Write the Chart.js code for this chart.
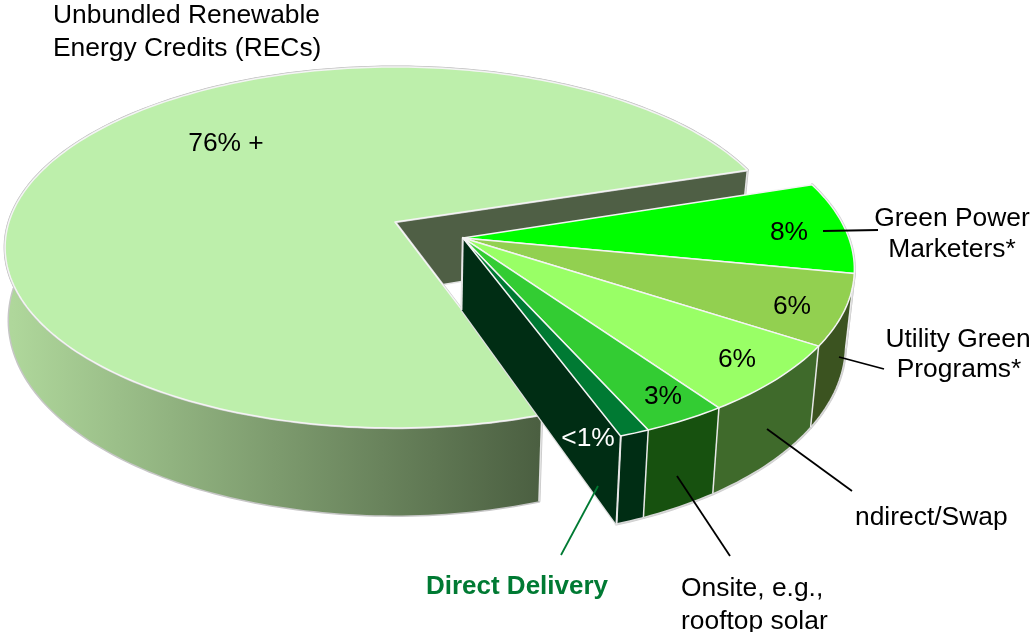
<!DOCTYPE html>
<html><head><meta charset="utf-8">
<style>html,body{margin:0;padding:0;background:#fff;overflow:hidden}canvas{display:block}</style>
<script src="https://cdn.jsdelivr.net/npm/chart.js@4"></script></head>
<body><canvas id="c" width="1033" height="632"></canvas>
<script>
const categories = ['Green Power Marketers*','Utility Green Programs*','Indirect/Swap','Onsite, e.g., rooftop solar','Direct Delivery','Unbundled Renewable Energy Credits (RECs)'];
const values = [8,6.2,6.2,3.1,1.1,75.4];
const topColors = ['#00FF00','#92D050','#99FF66','#33CC33','#007A33','#BDEFAB'];
const wallColors = ['#2f4a14','#3B5320','#3F6A2B','#17510F','#002D14','#5f7a50'];
const valueLabels = ['8%','6%','6%','3%','<1%','76% +'];
const valueLabelColors = ['#000','#000','#000','#000','#fff','#000'];
const valueLabelPos = [[789,231],[792,305],[737,358],[663,395],[588,437],[226,142]];
const textLabels = [
 {t:'Unbundled Renewable',x:53,y:14,a:'left'},{t:'Energy Credits (RECs)',x:53,y:47,a:'left'},
 {t:'Green Power',x:952,y:217,a:'center'},{t:'Marketers*',x:952,y:248,a:'center'},
 {t:'Utility Green',x:958,y:338,a:'center'},{t:'Programs*',x:959,y:368,a:'center'},
 {t:'ndirect/Swap',x:855,y:516,a:'left'},
 {t:'Onsite, e.g.,',x:681,y:587,a:'left'},{t:'rooftop solar',x:681,y:620,a:'left'},
 {t:'Direct Delivery',x:517,y:585,a:'center',b:1,c:'#007A33'}];
const leaders = [
 [[823,231],[878,230],'#000'],[[839,357],[884,369],'#000'],[[767,429],[852,491],'#000'],
 [[677,476],[730,556],'#000'],[[598,486],[561,555],'#007A33']];
const FONT='"Liberation Sans", Arial, sans-serif';
const O={x:395,y:222},B=386,A=176.9,K=0.141,SHIFT={u:0.1739,v:0.0893},RX_SMALL=0.987,TEXT_DY=1.8;
const project=(u,v)=>{const w=1-K*v;return {x:O.x+B*u/w,y:O.y+A*v/w,v};};
const drop=p=>({x:O.x+(p.x-O.x)*(p.x<O.x?0.99:0.981),y:p.y+70.5+17*p.v});
function rimPts(a0,a1,s,rx){const n=Math.max(2,Math.ceil((a1-a0)/0.02)),r=[];
 for(let i=0;i<=n;i++){const a=a0+(a1-a0)*i/n;r.push(project(s.u+rx*Math.cos(a),s.v+Math.sin(a)));}return r;}
function poly(ctx,pts){ctx.beginPath();pts.forEach((p,i)=>i?ctx.lineTo(p.x,p.y):ctx.moveTo(p.x,p.y));ctx.closePath();}
function line(ctx,pts,col,w){ctx.beginPath();pts.forEach((p,i)=>i?ctx.lineTo(p.x,p.y):ctx.moveTo(p.x,p.y));ctx.strokeStyle=col;ctx.lineWidth=w;ctx.stroke();}
const pie3d={id:'pie3d',
 beforeDatasetsDraw(chart){
  const ctx=chart.ctx,arcs=chart.getDatasetMeta(0).data;
  ctx.save();ctx.lineJoin='round';
  const geo=arcs.map((e,i)=>{const big=i===arcs.length-1,s=big?{u:0,v:0}:SHIFT,
    rim=rimPts(e.startAngle,e.endAngle,s,big?1:RX_SMALL),apex=project(s.u,s.v);
    return {i,big,rim,apex,low:rim.map(drop),apexLow:drop(apex)};});
  const bigG=geo[geo.length-1];
  poly(ctx,[...bigG.rim,...bigG.low.slice().reverse()]);
  ctx.strokeStyle='#c6c6c6';ctx.lineWidth=3;ctx.stroke();
  const g=ctx.createLinearGradient(12,0,540,0);g.addColorStop(0,'#AFD79B');g.addColorStop(1,'#4B5F41');
  ctx.fillStyle=g;ctx.fill();
  const lastB=bigG.rim.length-1;
  poly(ctx,[bigG.apex,bigG.rim[lastB],bigG.low[lastB],bigG.apexLow]);ctx.fillStyle='#4F5F45';ctx.fill();
  line(ctx,[bigG.apexLow,bigG.low[lastB]],'#e4e4e4',1.5);
  line(ctx,[bigG.rim[lastB],bigG.low[lastB]],'#e4e4e4',1.5);
  line(ctx,[bigG.low[0],bigG.rim[0]],'#e4e4e4',1.5);
  poly(ctx,[bigG.apex,...bigG.rim]);ctx.fillStyle=topColors[bigG.i];ctx.strokeStyle='#c6c6c6';ctx.lineWidth=2.5;ctx.stroke();ctx.fill();
  ctx.strokeStyle='#f4f4f4';ctx.lineWidth=1.5;ctx.stroke();
  const small=geo.slice(0,-1);
  small.forEach(s=>{poly(ctx,[...s.rim,...s.low.slice().reverse()]);ctx.strokeStyle='#cfcfcf';ctx.lineWidth=3;ctx.stroke();});
  small.forEach(s=>{poly(ctx,[...s.rim,...s.low.slice().reverse()]);ctx.fillStyle=wallColors[s.i];ctx.fill();
    line(ctx,[s.rim[0],s.low[0]],'#e8e8e8',1.5);line(ctx,s.low,'#d8d8d8',1.5);});
  const f=small[small.length-1],fe=f.rim.length-1;
  line(ctx,[f.rim[fe],f.low[fe]],'#e8e8e8',1.5);
  poly(ctx,[f.apex,f.rim[fe],f.low[fe],f.apexLow]);ctx.strokeStyle='#e0e0e0';ctx.lineWidth=2.5;ctx.stroke();ctx.fillStyle=wallColors[f.i];ctx.fill();
  line(ctx,[f.apex,f.apexLow],'#e8e8e8',1.5);
  line(ctx,[f.rim[fe],f.low[fe]],'#e8e8e8',1.5);
  small.forEach(s=>{poly(ctx,[s.apex,...s.rim]);ctx.fillStyle=topColors[s.i];ctx.fill();ctx.strokeStyle='#f4f4f4';ctx.lineWidth=1.5;ctx.stroke();});
  ctx.restore();
  return false;
 },
 afterDraw(chart){
  const ctx=chart.ctx;ctx.save();
  leaders.forEach(l=>{ctx.beginPath();ctx.moveTo(l[0][0],l[0][1]);ctx.lineTo(l[1][0],l[1][1]);ctx.strokeStyle=l[2];ctx.lineWidth=1.8;ctx.stroke();});
  ctx.textBaseline='middle';
  ctx.font='26.4px '+FONT;ctx.textAlign='center';
  valueLabels.forEach((t,i)=>{ctx.fillStyle=valueLabelColors[i];ctx.fillText(t,valueLabelPos[i][0],valueLabelPos[i][1]+TEXT_DY);});
  textLabels.forEach(l=>{ctx.font=(l.b?'bold 26px ':'26.4px ')+FONT;ctx.textAlign=l.a;ctx.fillStyle=l.c||'#000';ctx.fillText(l.t,l.x,l.y+TEXT_DY);});
  ctx.restore();
 }};
new Chart(document.getElementById('c'),{type:'pie',
 data:{labels:categories,datasets:[{data:values,backgroundColor:topColors}]},
 options:{responsive:false,animation:false,rotation:72.2,
  plugins:{legend:{display:false},tooltip:{enabled:false}}},
 plugins:[pie3d]});
</script></body></html>
